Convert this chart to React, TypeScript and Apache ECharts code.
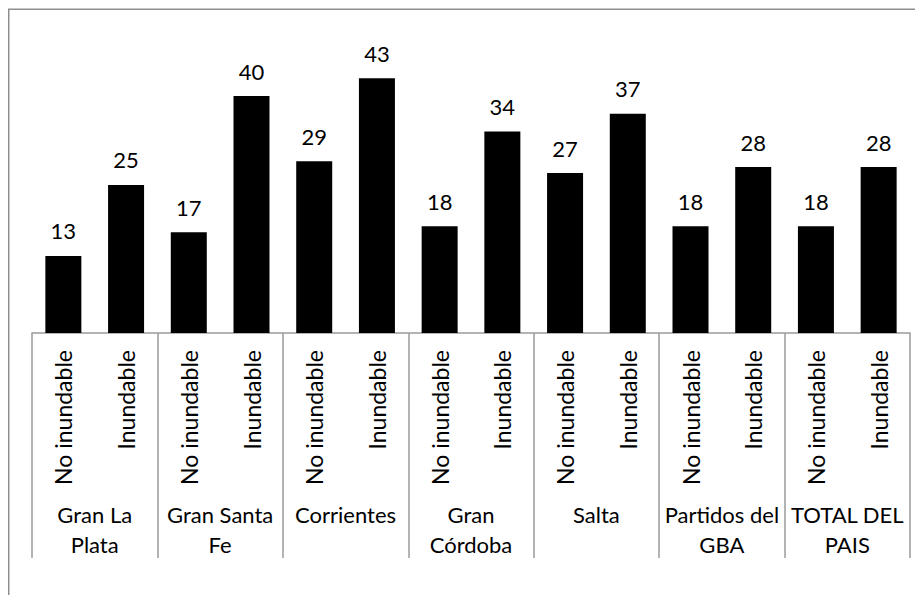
import React, { useEffect, useRef } from "react";
import * as echarts from "echarts";

// Sub-categories within each city (two bars per city)
const subCategories = ["No inundable", "Inundable"];
// Cities / regions shown on the outer axis level
const regions = [
  "Gran La Plata",
  "Gran Santa Fe",
  "Corrientes",
  "Gran Córdoba",
  "Salta",
  "Partidos del GBA",
  "TOTAL DEL PAIS",
];
// Wrapped tick labels for the outer axis level
const regionLabels = [
  "Gran La\nPlata",
  "Gran Santa\nFe",
  "Corrientes",
  "Gran\nCórdoba",
  "Salta",
  "Partidos del\nGBA",
  "TOTAL DEL\nPAIS",
];
// Percentages per region: [No inundable, Inundable]
const noInundable = [13, 17, 29, 18, 27, 18, 18];
const inundable = [25, 40, 43, 34, 37, 28, 28];

const FONT = "Lato, 'Open Sans', sans-serif";

export default function App() {
  const ref = useRef<HTMLDivElement>(null);

  useEffect(() => {
    if (!ref.current) return;
    const chart = echarts.init(ref.current, undefined, { renderer: "svg" });

    const innerCats: string[] = [];
    const values: number[] = [];
    regions.forEach((_, i) => {
      innerCats.push(subCategories[0], subCategories[1]);
      values.push(noInundable[i], inundable[i]);
    });

    chart.setOption({
      animation: false,
      backgroundColor: "#ffffff",
      textStyle: { fontFamily: FONT },
      grid: { left: 24, right: 13, top: 28.75, bottom: 262, containLabel: false },
      xAxis: [
        {
          type: "category",
          data: innerCats,
          position: "bottom",
          axisLine: { show: true, lineStyle: { color: "#9a9a9a", width: 1.5 } },
          axisTick: { show: false },
          axisLabel: {
            interval: 0,
            rotate: 90,
            margin: 17,
            color: "#000",
            fontSize: 23,
            fontFamily: FONT,
          },
        },
        {
          type: "category",
          data: regions,
          position: "bottom",
          axisLine: { show: false },
          axisTick: {
            show: true,
            interval: 0,
            alignWithLabel: false,
            length: 225,
            lineStyle: { color: "#9a9a9a", width: 1.5 },
          },
          axisLabel: {
            interval: 0,
            margin: 166,
            color: "#000",
            fontSize: 22,
            lineHeight: 30,
            fontFamily: FONT,
            formatter: (_v: string, idx: number) => regionLabels[idx],
          },
        },
      ],
      yAxis: {
        type: "value",
        min: 0,
        max: 50,
        show: false,
        splitLine: { show: false },
      },
      series: [
        {
          type: "bar",
          xAxisIndex: 0,
          data: values,
          barWidth: 36,
          itemStyle: { color: "#000000" },
          label: {
            show: true,
            position: "top",
            distance: 14,
            color: "#000",
            fontSize: 22,
            fontFamily: FONT,
          },
        },
      ],
      graphic: [
        {
          type: "rect",
          silent: true,
          shape: { x: 0.75, y: 1.25, width: 2000, height: 2000 },
          style: { fill: "none", stroke: "#8f8f8f", lineWidth: 1.5 },
        },
      ],
    });

    return () => chart.dispose();
  }, []);

  return <div ref={ref} style={{ width: 915, height: 587 }} />;
}
